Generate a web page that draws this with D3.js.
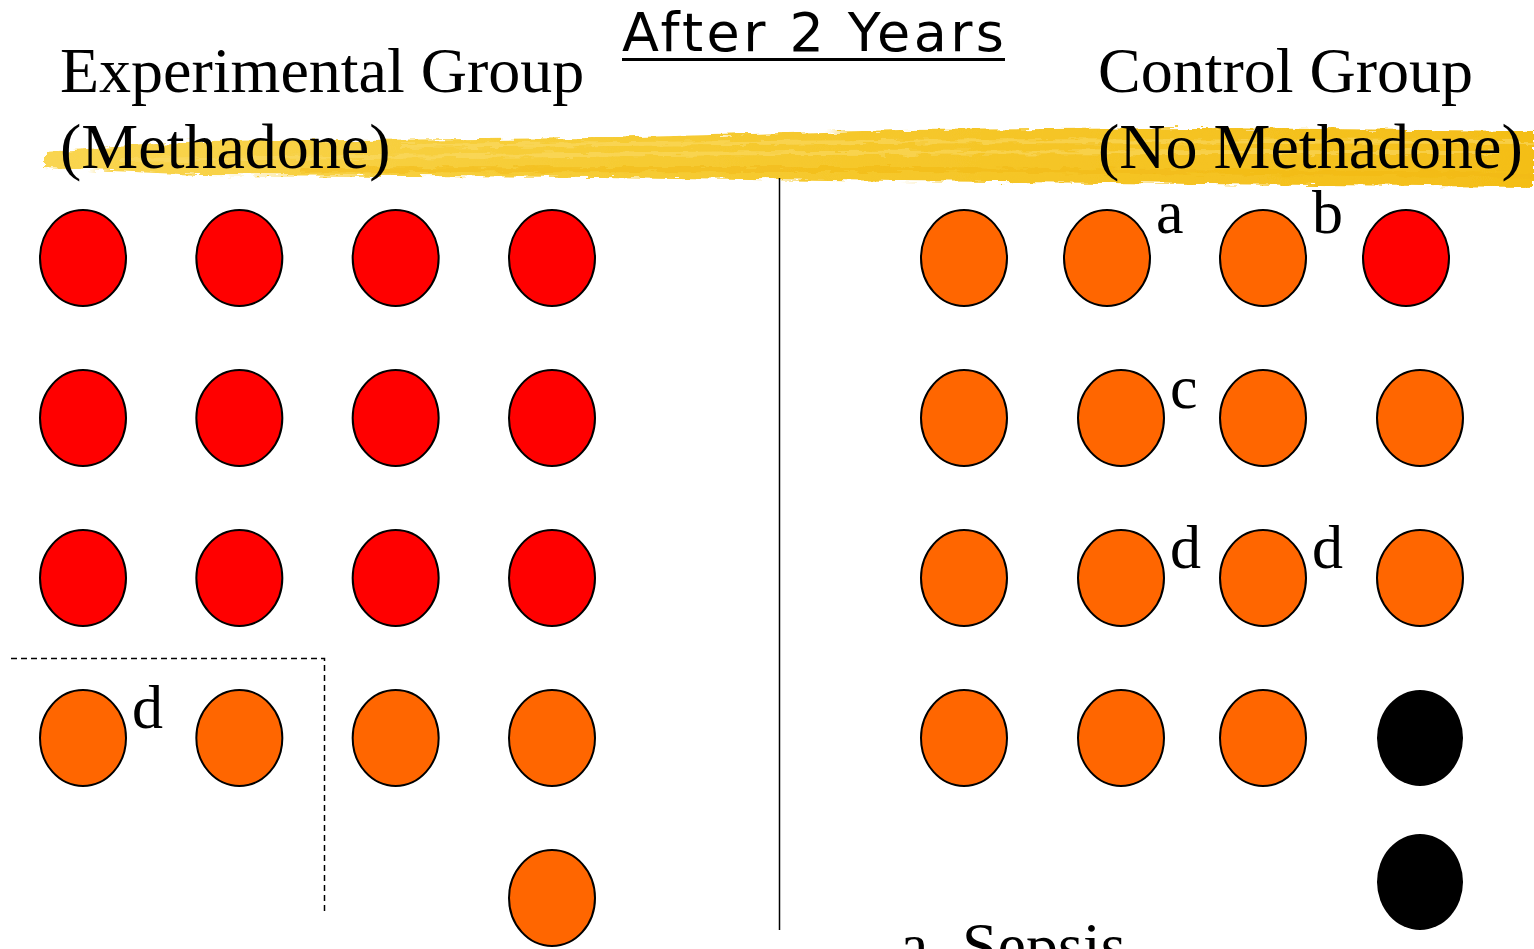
<!DOCTYPE html>
<html>
<head>
<meta charset="utf-8">
<script src="https://cdn.jsdelivr.net/npm/d3@7"></script>
<style>
  html, body { margin: 0; padding: 0; background: #fff; overflow: hidden; }
  svg { display: block; }
</style>
</head>
<body>
<svg id="chart" width="1534" height="949"></svg>
<script>
// ---- Data ----
const title = "After 2 Years";
const groupNames = ["Experimental Group", "Control Group"];
const groupSubs = ["(Methadone)", "(No Methadone)"];
// status codes: T = red, H = orange, D = black (dead)
const experimentalRows = [
  ["T", "T", "T", "T"],
  ["T", "T", "T", "T"],
  ["T", "T", "T", "T"],
  ["H", "H", "H", "H"],
  [null, null, null, "H"]
];
const controlRows = [
  ["H", "H", "H", "T"],
  ["H", "H", "H", "H"],
  ["H", "H", "H", "H"],
  ["H", "H", "H", "D"],
  [null, null, null, "D"]
];
const experimentalNotes = [{ row: 3, col: 0, label: "d" }];
const controlNotes = [
  { row: 0, col: 1, label: "a" },
  { row: 0, col: 2, label: "b" },
  { row: 1, col: 1, label: "c" },
  { row: 2, col: 1, label: "d" },
  { row: 2, col: 2, label: "d" }
];
const footnoteKey = "a.";
const footnoteText = "Sepsis";

// ---- Scales ----
const statusColor = d3.scaleOrdinal().domain(["T", "H", "D"]).range(["#FF0000", "#FF6600", "#000000"]);
const xExp = d3.scalePoint().domain([0, 1, 2, 3]).range([83, 552]);
const yExp = d3.scalePoint().domain([0, 1, 2, 3, 4]).range([258, 898]);
const xCtl = d3.scaleOrdinal().domain([0, 1, 2, 3]).range([964, 1121, 1263, 1420]);
const yCtl = d3.scaleOrdinal().domain([0, 1, 2, 3, 4]).range([258, 418, 578, 738, 882]);
const rowNudge = { 0: { 1: -14, 3: -14 } }; // control first row slight shift

const svg = d3.select("#chart");
const defs = svg.append("defs");

// rough highlighter filter
const f = defs.append("filter").attr("id", "rough").attr("x", "-5%").attr("y", "-50%").attr("width", "110%").attr("height", "200%");
f.append("feTurbulence").attr("type", "fractalNoise").attr("baseFrequency", "0.05 0.25").attr("numOctaves", 3).attr("seed", 7).attr("result", "noise");
f.append("feDisplacementMap").attr("in", "SourceGraphic").attr("in2", "noise").attr("scale", 8).attr("xChannelSelector", "R").attr("yChannelSelector", "G");

const g2 = defs.append("linearGradient").attr("id", "hl").attr("x1", 0).attr("y1", 0).attr("x2", 1).attr("y2", 0);
g2.append("stop").attr("offset", "0%").attr("stop-color", "#F9D550");
g2.append("stop").attr("offset", "40%").attr("stop-color", "#F6CB32");
g2.append("stop").attr("offset", "100%").attr("stop-color", "#F4BE18");

// ---- Highlighter band ----
const hlTop = [[45, 152], [200, 141], [600, 138], [900, 130], [1200, 128], [1534, 131]];
const hlBot = [[1534, 187], [1200, 184], [900, 181], [600, 177], [200, 175], [45, 168]];
const bandG = svg.append("g").attr("filter", "url(#rough)");
bandG.append("path")
  .attr("d", d3.line().curve(d3.curveLinearClosed)(hlTop.concat(hlBot)))
  .attr("fill", "url(#hl)");
// streaks
const streaks = [[[120, 160], [700, 152], [1500, 152]], [[300, 170], [900, 168], [1530, 175]], [[400, 146], [1000, 140], [1534, 142]]];
streaks.forEach((s, i) => {
  bandG.append("path").attr("d", d3.line().curve(d3.curveBasis)(s))
    .attr("fill", "none").attr("stroke", i === 1 ? "#F2B812" : "#FBDD70")
    .attr("stroke-width", i === 1 ? 5 : 4).attr("opacity", 0.5);
});

// ---- Title ----
svg.append("text").attr("x", 622).attr("y", 51)
  .attr("textLength", 382).attr("lengthAdjust", "spacing")
  .style("font-family", "'DejaVu Sans', Verdana, sans-serif")
  .style("font-size", "54px").attr("fill", "#000").text(title);
svg.append("line").attr("x1", 622).attr("x2", 1005).attr("y1", 59.5).attr("y2", 59.5)
  .attr("stroke", "#000").attr("stroke-width", 3);

// ---- Group headers ----
const serif = "'Liberation Serif', 'Times New Roman', serif";
const headerX = [60, 1098];
groupNames.forEach((n, i) => {
  svg.append("text").attr("x", headerX[i]).attr("y", 92).style("font-family", serif).style("font-size", "64px").text(n);
  svg.append("text").attr("x", headerX[i]).attr("y", 168).style("font-family", serif).style("font-size", "64px").text(groupSubs[i]);
});

// ---- Divider & dashed box ----
svg.append("line").attr("x1", 779.5).attr("x2", 779.5).attr("y1", 178).attr("y2", 930).attr("stroke", "#000").attr("stroke-width", 1.5);
svg.append("path").attr("d", d3.line()([[11, 658.5], [324.5, 658.5], [324.5, 915]]))
  .attr("fill", "none").attr("stroke", "#000").attr("stroke-width", 1.5).attr("stroke-dasharray", "6,4");

// ---- Dots ----
function flatten(rows) {
  const out = [];
  rows.forEach((r, ri) => r.forEach((s, ci) => { if (s) out.push({ row: ri, col: ci, status: s }); }));
  return out;
}
const rx = 43, ry = 48;
function drawGroup(rows, notes, xs, ys, nudge) {
  const g = svg.append("g");
  const nx = d => (nudge && nudge[d.row] && nudge[d.row][d.col]) || 0;
  g.selectAll("ellipse").data(flatten(rows)).join("ellipse")
    .attr("cx", d => xs(d.col) + nx(d)).attr("cy", d => ys(d.row))
    .attr("rx", rx).attr("ry", ry)
    .attr("fill", d => statusColor(d.status))
    .attr("stroke", "#000").attr("stroke-width", d => d.status === "D" ? 0 : 2);
  g.selectAll("text").data(notes).join("text")
    .attr("x", d => xs(d.col) + nx(d) + rx + 6)
    .attr("y", d => ys(d.row) - (d.row === 0 ? 25 : 10))
    .style("font-family", serif).style("font-size", "62px").text(d => d.label);
}
drawGroup(experimentalRows, experimentalNotes, xExp, yExp, null);
drawGroup(controlRows, controlNotes, xCtl, yCtl, rowNudge);

// ---- Footnote (cut off at bottom, as in the original slide) ----
svg.append("text").attr("x", 900).attr("y", 967).style("font-family", serif).style("font-size", "64px").text(footnoteKey);
svg.append("text").attr("x", 962).attr("y", 967).style("font-family", serif).style("font-size", "64px").text(footnoteText);
</script>
</body>
</html>
